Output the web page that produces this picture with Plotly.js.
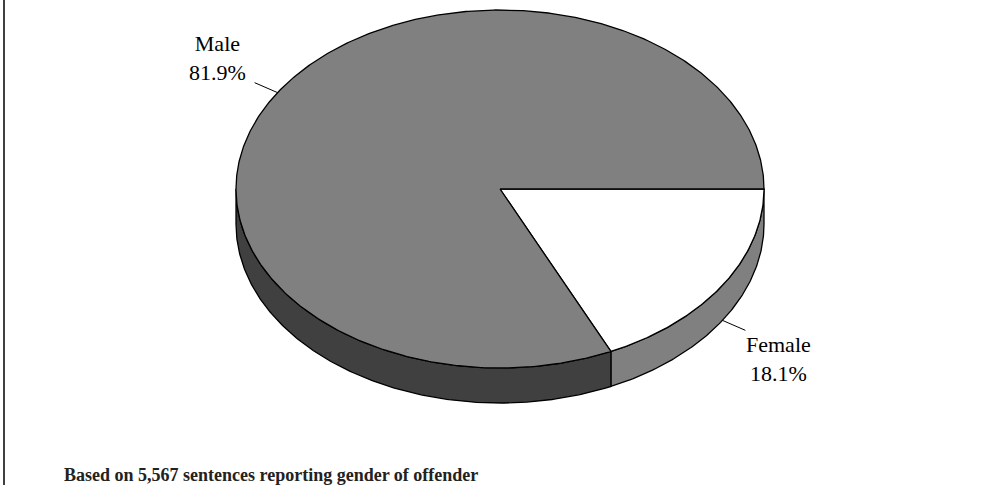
<!DOCTYPE html>
<html>
<head>
<meta charset="utf-8">
<script src="https://cdn.plot.ly/plotly-3.0.1.min.js"></script>
<style>
  html, body { margin: 0; padding: 0; background: #ffffff; }
  #chart { width: 1004px; height: 485px; }
</style>
</head>
<body>
<div id="chart"></div>
<script>
// ---- data ----
const labels = ["Male", "Female"];
const values = [81.9, 18.1];
const topColors = ["#808080", "#ffffff"];
const sideColors = ["#404040", "#808080"];
const footnote = "Based on 5,567 sentences reporting gender of offender";

// ---- geometry (layout) ----
const W = 1004, H = 485;
const cx = 500, cy = 189, rx = 264, ry = 179, depth = 35;
const serif = '"Liberation Serif", "Times New Roman", Times, serif';

function pt(deg, dy) {
  const t = deg * Math.PI / 180;
  return [cx + rx * Math.cos(t), cy + ry * Math.sin(t) + (dy || 0)];
}
function arc(a0, a1, dy) {
  const n = Math.max(2, Math.ceil(Math.abs(a1 - a0) * 2));
  const out = [];
  for (let i = 0; i <= n; i++) out.push(pt(a0 + (a1 - a0) * i / n, dy));
  return out;
}

// slices: drawn clockwise from 3 o'clock, last category first
const total = values.reduce((a, b) => a + b, 0);
const slices = [];
let start = 0;
for (let i = labels.length - 1; i >= 0; i--) {
  const sweep = values[i] / total * 360;
  slices.push({ i: i, a0: start, a1: start + sweep });
  start += sweep;
}

const traces = [];
const lineStyle = { color: "#000000", width: 1.3 };

// side walls (front half only: 0..180 deg)
slices.forEach(s => {
  const a0 = Math.max(s.a0, 0), a1 = Math.min(s.a1, 180);
  if (a1 <= a0) return;
  const pts = arc(a0, a1, 0).concat(arc(a1, a0, depth));
  pts.push(pts[0]);
  traces.push({
    type: "scatter", mode: "lines", fill: "toself",
    x: pts.map(p => p[0]), y: pts.map(p => p[1]),
    fillcolor: sideColors[s.i], line: lineStyle, hoverinfo: "skip"
  });
});

// top faces
slices.forEach(s => {
  const pts = [[cx, cy]].concat(arc(s.a0, s.a1, 0));
  pts.push([cx, cy]);
  traces.push({
    type: "scatter", mode: "lines", fill: "toself",
    x: pts.map(p => p[0]), y: pts.map(p => p[1]),
    fillcolor: topColors[s.i], line: lineStyle, hoverinfo: "skip"
  });
});

// labels with leader lines
const shapes = [{
  type: "line", xref: "paper", yref: "paper",
  x0: 4 / W, x1: 4 / W, y0: 0, y1: 1,
  line: { color: "#000000", width: 1.5 }
}];
const annotations = [];
slices.forEach(s => {
  const mid = (s.a0 + s.a1) / 2;
  const t = mid * Math.PI / 180;
  const front = Math.sin(t) > 0;
  const p = pt(mid, front ? depth : 0);
  const vx = rx * Math.cos(t), vy = ry * Math.sin(t);
  const len = Math.hypot(vx, vy);
  const q = [p[0] + vx / len * 25, p[1] + vy / len * 25];
  shapes.push({
    type: "line", xref: "x", yref: "y",
    x0: p[0], y0: p[1], x1: q[0], y1: q[1],
    line: { color: "#000000", width: 1 }
  });
  const right = Math.cos(t) > 0;
  annotations.push({
    xref: "x", yref: "y",
    x: q[0] + (right ? 33 : -37),
    y: q[1] + (front ? 29 : -25),
    xanchor: "center", yanchor: "middle",
    text: labels[s.i] + "<br>" + values[s.i].toFixed(1) + "%",
    showarrow: false,
    font: { family: serif, size: 22, color: "#000000" }
  });
});

annotations.push({
  xref: "x", yref: "y", x: 62, y: 475,
  xanchor: "left", yanchor: "middle",
  text: "<b>" + footnote + "</b>", showarrow: false,
  font: { family: serif, size: 18, color: "#222222" }
});

const layout = {
  width: W, height: H,
  margin: { l: 0, r: 0, t: 0, b: 0 },
  paper_bgcolor: "#ffffff", plot_bgcolor: "#ffffff",
  showlegend: false,
  xaxis: { range: [0, W], visible: false, fixedrange: true },
  yaxis: { range: [H, 0], visible: false, fixedrange: true },
  shapes: shapes, annotations: annotations
};

Plotly.newPlot("chart", traces, layout, { displayModeBar: false, staticPlot: true });
</script>
</body>
</html>
